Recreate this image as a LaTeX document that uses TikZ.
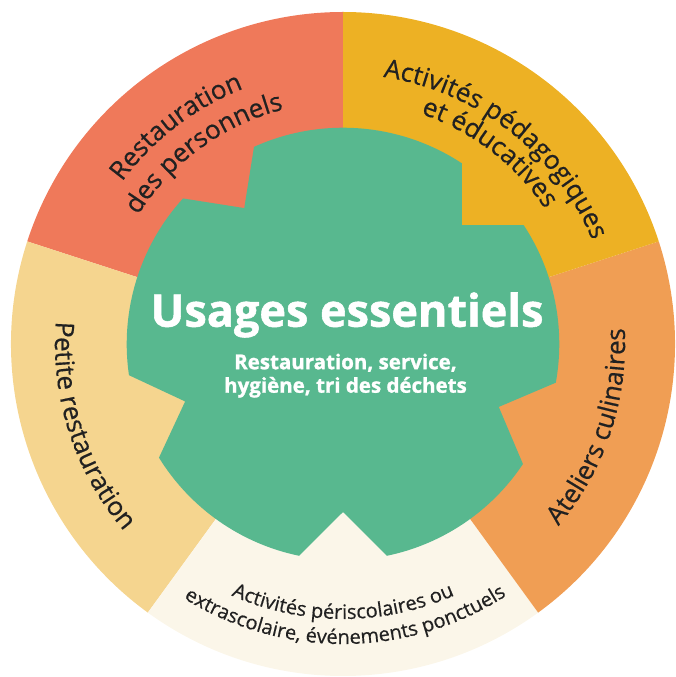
\documentclass[tikz,border=0pt]{standalone}
\usepackage{fontspec}
\setmainfont{Open Sans}[FakeBold=0.5, BoldFeatures={FakeBold=1.2}]
\usepackage{xcolor}
\usetikzlibrary{decorations.text}

\definecolor{corail}{RGB}{239,121,90}
\definecolor{ocre}{RGB}{237,177,36}
\definecolor{abricot}{RGB}{240,158,84}
\definecolor{creme}{RGB}{251,246,233}
\definecolor{paille}{RGB}{245,213,143}
\definecolor{menthe}{RGB}{88,184,143}
\definecolor{encre}{RGB}{33,33,33}

\begin{document}
\begin{tikzpicture}[
  x=1pt, y=1pt,
  label/.style={decorate, decoration={text along path, text align=center, text color=encre,
    text={|\fontsize{26}{28}\selectfont|#1}}},
  petit/.style={decorate, decoration={text along path, text align=center, text color=encre,
    text={|\fontsize{20}{22}\selectfont|#1}}},
  titre/.style={anchor=base, text=white, font=\fontsize{45}{47}\selectfont\bfseries, inner sep=0pt},
  detail/.style={anchor=base, text=white, align=center, font=\fontsize{20.5}{23.5}\selectfont\bfseries, inner sep=0pt}
]
\useasboundingbox (-343,-333) rectangle (332,344);

% secteurs
\foreach \a/\c in {90/corail,162/paille,234/creme,306/abricot,18/ocre}
  \fill[\c] (0,0) -- (\a:332) arc[start angle=\a, delta angle=72, radius=332] -- cycle;

% forme centrale
\fill[menthe] (33.3:216.3)
  \foreach \a/\b [evaluate=\a as \s using \a+11.7, evaluate=\b as \e using \b-11.7]
    in {45/126,126/200,200/270,270/338,338/405}
  { -- (\a:168) -- (\s:216.3) arc[start angle=\s, end angle=\e, radius=216.3] } -- cycle;

\node[titre] (usages) at (4,17.3) {Usages essentiels};
\node[detail] (resume) at (2.5,-48.7) {Restauration, service,\\hygiène, tri des déchets};

% textes des secteurs
\path[label={Restauration}] (160:274) arc[start angle=160, end angle=95, radius=274];
\path[label={des personnels}] (160:242) arc[start angle=160, end angle=92, radius=242];
\path[label={Activités pédagogiques}] (87:270) arc[start angle=87, end angle=17, radius=270];
\path[label={et éducatives}] (87:243) arc[start angle=87, end angle=18, radius=243];
\path[label={Ateliers culinaires}] (-55:282) arc[start angle=-55, end angle=18, radius=282];
\path[label={Petite restauration}] (162:288) arc[start angle=162, end angle=234, radius=288];
\path[petit={Activités périscolaires ou}] (230:275) arc[start angle=230, end angle=310, radius=275];
\path[petit={extrascolaire, événements ponctuels}] (225:300) arc[start angle=225, end angle=316, radius=300];
\end{tikzpicture}
\end{document}
